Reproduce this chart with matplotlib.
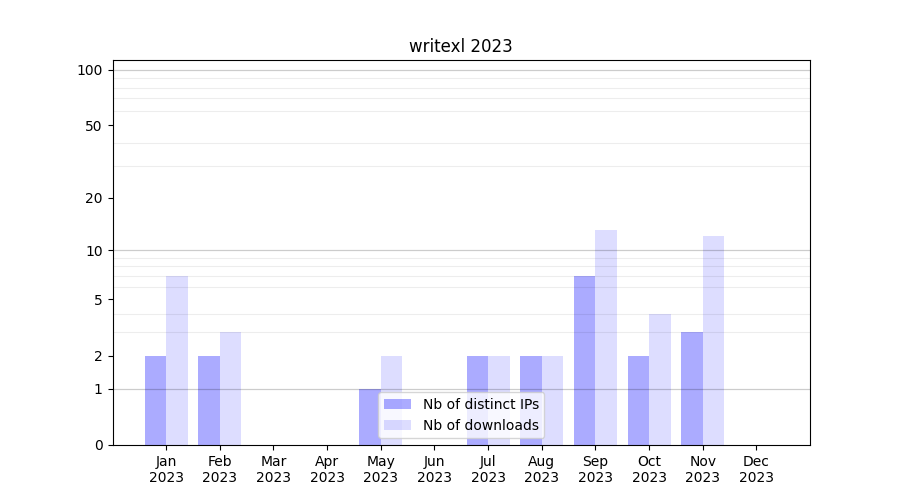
import numpy as np
import matplotlib
matplotlib.use('Agg')
import matplotlib.pyplot as plt

months = ['Jan', 'Feb', 'Mar', 'Apr', 'May', 'Jun', 'Jul', 'Aug', 'Sep', 'Oct', 'Nov', 'Dec']
year = '2023'
distinct_ips = [2, 2, 0, 0, 1, 0, 2, 2, 7, 2, 3, 0]
downloads = [7, 3, 0, 0, 2, 0, 2, 2, 13, 4, 12, 0]
y_ticks = [0, 1, 2, 5, 10, 20, 50, 100]


def fwd(v):
    return np.log10(1 + np.clip(v, 0, None))


def inv(v):
    return 10 ** v - 1


fig, ax = plt.subplots(figsize=(9, 5), dpi=100)
x = np.arange(len(months))
w = 0.4
ax.bar(x - w / 2, distinct_ips, w, color='blue', alpha=0.33, label='Nb of distinct IPs')
ax.bar(x + w / 2, downloads, w, color='blue', alpha=0.135, label='Nb of downloads')

ax.set_yscale('function', functions=(fwd, inv))
ax.set_ylim(0, 113)
ax.set_xlim(-1, 12)

ax.set_yticks(y_ticks)
ax.set_yticklabels([str(t) for t in y_ticks])
minor = [m * d for d in (1, 10) for m in range(2, 10)]
ax.set_yticks(minor, minor=True)
ax.tick_params(axis='y', which='minor', length=0)
ax.yaxis.grid(True, which='minor', color='#000000', alpha=0.07, linewidth=0.8)
for d in (1, 10, 100):
    ax.axhline(d, color='#000000', alpha=0.2, linewidth=0.9, zorder=1.5)

ax.set_xticks(x)
ax.set_xticklabels([m + '\n' + year for m in months])

ax.set_title('writexl 2023')
ax.legend(loc='lower center')

fig.savefig('out.png', dpi=100)
